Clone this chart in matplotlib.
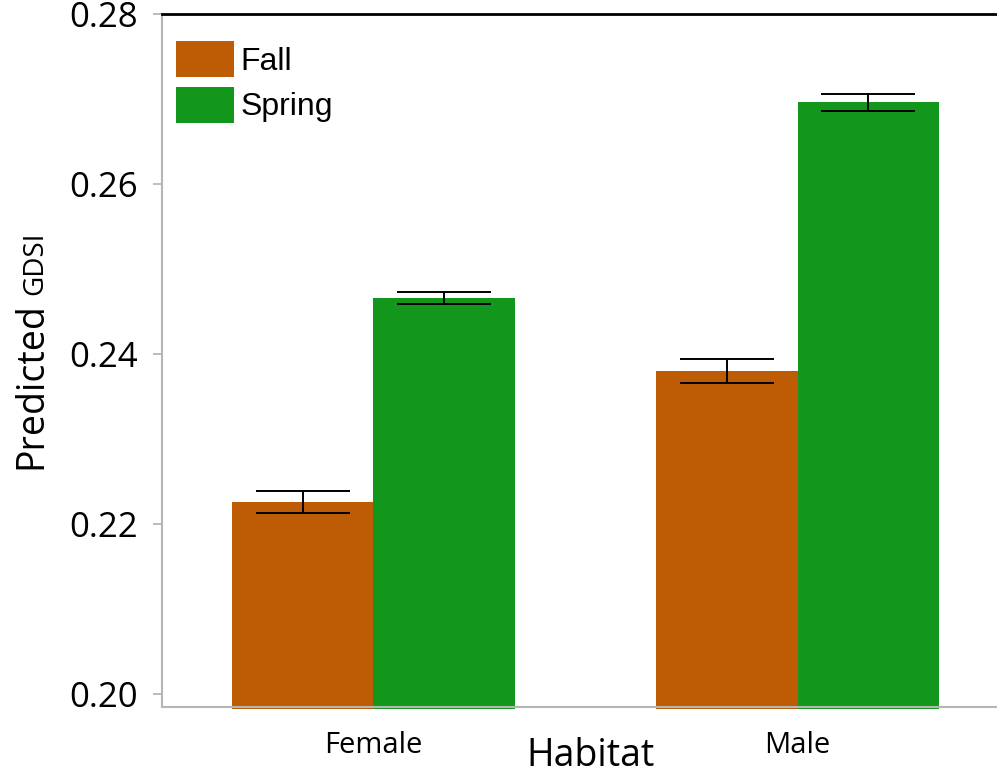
import matplotlib.pyplot as plt
import numpy as np

groups = ['Female', 'Male']
seasons = ['Fall', 'Spring']
fall_means = [0.2226, 0.2380]
fall_err = [0.0013, 0.0014]
spring_means = [0.2466, 0.2696]
spring_err = [0.00075, 0.0010]
colors = {'Fall': '#bd5c05', 'Spring': '#12971c'}

fig = plt.figure(figsize=(9.97, 7.79), dpi=100)
ax = fig.add_axes([0.1625, 0.0924, 0.8375, 0.8896])

x = np.arange(len(groups))
w = 0.333
base = 0.1982
ax.bar(x - w / 2, np.array(fall_means) - base, w, bottom=base,
       color=colors['Fall'], label='Fall', clip_on=False, zorder=1)
ax.bar(x + w / 2, np.array(spring_means) - base, w, bottom=base,
       color=colors['Spring'], label='Spring', clip_on=False, zorder=1)
ax.errorbar(x - w / 2, fall_means, yerr=fall_err, fmt='none', ecolor='black',
            elinewidth=1.4, capsize=34, capthick=1.4, zorder=3)
ax.errorbar(x + w / 2, spring_means, yerr=spring_err, fmt='none', ecolor='black',
            elinewidth=1.4, capsize=34, capthick=1.4, zorder=3)

ax.set_xlim(-0.498, 1.47)
ax.set_ylim(0.19847, 0.28)
ax.set_yticks([0.20, 0.22, 0.24, 0.26, 0.28])
ax.set_yticklabels(['0.20', '0.22', '0.24', '0.26', '0.28'],
                   fontfamily='Open Sans', fontsize=25)
ax.set_xticks(x)
ax.set_xticklabels(groups, fontfamily='Open Sans', fontsize=21)
ax.tick_params(axis='x', length=0, pad=17)
ax.tick_params(axis='y', length=6.5, width=1.2, color='#b0b0b0', pad=11)

for s in ['left', 'bottom']:
    ax.spines[s].set_color('#b5b5b5')
    ax.spines[s].set_linewidth(1.5)
ax.spines['right'].set_visible(False)
ax.spines['top'].set_color('black')
ax.spines['top'].set_linewidth(2)

fig.text(0.592, 1 - 756 / 779, 'Habitat', fontfamily='Open Sans', fontsize=27,
         ha='center', va='center')
fig.text(31 / 997, 1 - 386 / 779, 'Predicted', fontfamily='Open Sans', fontsize=27,
         rotation=90, ha='center', va='center')
fig.text(35 / 997, 1 - 263 / 779, 'GDSI', fontfamily='Open Sans', fontsize=20,
         rotation=90, ha='center', va='center')

ax.legend(loc='upper left', bbox_to_anchor=(14 / 835, 1 - 27 / 693),
          frameon=False, prop={'family': 'Liberation Sans', 'size': 23},
          handlelength=1.82, handleheight=1.36, labelspacing=0.3,
          handletextpad=0.2, borderpad=0, borderaxespad=0)

fig.savefig('out.png', dpi=100)
